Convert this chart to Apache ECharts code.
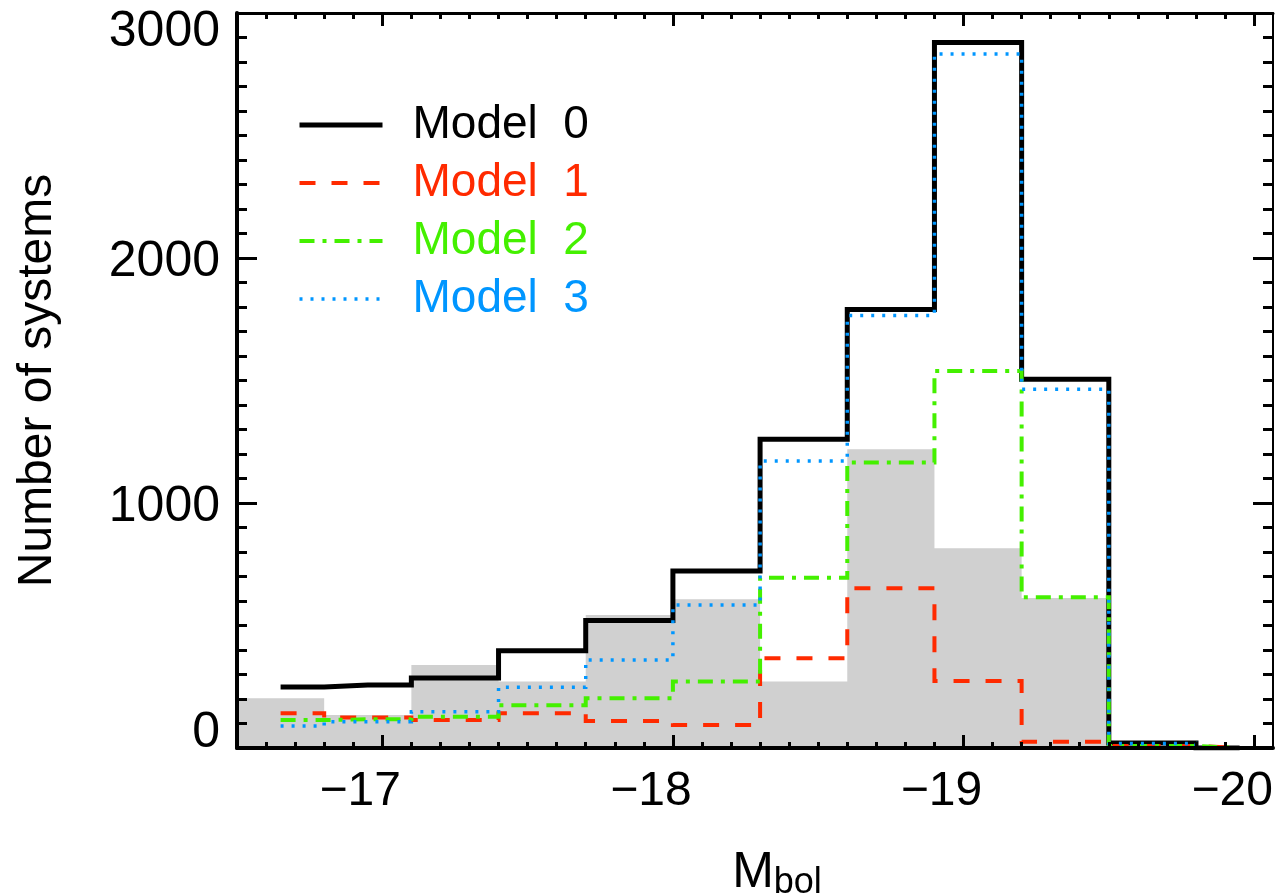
<!DOCTYPE html>
<html>
<head>
<meta charset="utf-8">
<script src="https://cdn.jsdelivr.net/npm/echarts@6/dist/echarts.min.js"></script>
<style>
html,body{margin:0;padding:0;background:#fff;}
#chart{width:1275px;height:893px;}
</style>
</head>
<body>
<div id="chart"></div>
<script>
// ---- data ----
const binCenters = [-16.65, -16.95, -17.25, -17.55, -17.85, -18.15, -18.45, -18.75, -19.05, -19.35, -19.65, -19.95];
const model0 = [249, 257, 286, 397, 520, 722, 1260, 1790, 2880, 1505, 20, 0];
const model1 = [142, 124, 114, 142, 110, 94, 366, 652, 273, 26, 8, 0];
const model2 = [114, 117, 128, 175, 203, 271, 695, 1165, 1539, 615, 8, 0];
const model3 = [90, 107, 148, 248, 359, 584, 1171, 1765, 2833, 1464, 18, 0];
const obsEdges = [-16.5, -16.8, -17.1, -17.4, -17.7, -18.0, -18.3, -18.6, -18.9, -19.2, -19.5];
const obsCounts = [203, 135, 339, 271, 543, 607, 271, 1219, 815, 612];
const seriesNames = ['Model  0', 'Model  1', 'Model  2', 'Model  3'];
const xTickLabels = [-17, -18, -19, -20];
const yTickLabels = [0, 1000, 2000, 3000];
const xRange = [-20.065, -16.5];

// ---- helpers ----
const FONT = '"Liberation Sans", Arial, sans-serif';
const XFONT = '"Liberation Sans", Arial, sans-serif';
const pairs = (xs, ys) => ys.map((y, i) => [xs[i], y]);
const obsData = obsCounts.map((c, i) => [obsEdges[i], c]);
obsData.push([obsEdges[obsEdges.length - 1], obsCounts[obsCounts.length - 1]]);

const minorX = [];
for (let k = 0; k <= 35; k++) minorX.push(+(-16.5 - 0.1 * k).toFixed(2));

const colors = ['#000000', '#ff2a00', '#44f000', '#0096ff'];
const widths = [5, 4, 4, 3.5];
const dashes = ['solid', [16, 16], [15, 8, 4, 8], [3, 8]];
const modelData = [model0, model1, model2, model3];

const baseX = {
  type: 'value', min: xRange[0], max: xRange[1], inverse: true,
  splitLine: {show: false}, z: 10
};

const chart = echarts.init(document.getElementById('chart'), null, {renderer: 'canvas', width: 1275, height: 893});
const yMax = yTickLabels[yTickLabels.length - 1];
const yMin = yTickLabels[0];

chart.setOption({
  animation: false,
  backgroundColor: '#ffffff',
  grid: {left: 237, right: 2, top: 13, bottom: 145, containLabel: false, outerBoundsMode: 'none'},
  legend: {
    orient: 'vertical', left: 297, top: 100, padding: 0,
    itemWidth: 83, itemHeight: 14, itemGap: 8,
    selectedMode: false,
    lineStyle: {width: 4},
    itemStyle: {opacity: 0, color: 'rgba(0,0,0,0)', borderWidth: 0},
    textStyle: {fontSize: 46, fontFamily: FONT, padding: [0, 0, 0, 25], lineHeight: 50},
    data: seriesNames.map((n, i) => ({
      name: n,
      itemStyle: {opacity: 0, color: 'rgba(0,0,0,0)', borderWidth: 0},
      textStyle: {color: colors[i], fontSize: 46, fontFamily: FONT},
      lineStyle: {width: widths[i]}
    }))
  },
  xAxis: [
    Object.assign({}, baseX, {
      position: 'bottom',
      name: '{m|M}{s|bol}', nameLocation: 'middle', nameGap: 100,
      nameTextStyle: {
        padding: [0, 0, 0, 44],
        rich: {
          m: {fontSize: 50, lineHeight: 50, verticalAlign: 'top', fontFamily: XFONT, color: '#000'},
          s: {fontSize: 36, lineHeight: 36, padding: [20, 0, 0, 0], fontFamily: XFONT, color: '#000'}
        }
      },
      axisLine: {show: true, lineStyle: {color: '#000', width: 4}},
      axisTick: {show: true, inside: true, length: 13, lineStyle: {color: '#000', width: 3}, customValues: xTickLabels},
      axisLabel: {
        show: true, customValues: xTickLabels, margin: 20,
        fontSize: 48, fontFamily: XFONT, color: '#000', padding: [0, 44, 0, 0],
        formatter: v => '\u2212' + Math.abs(v)
      }
    }),
    Object.assign({}, baseX, {
      position: 'bottom',
      axisLine: {show: false},
      axisTick: {show: true, inside: true, length: 6, lineStyle: {color: '#000', width: 3}, customValues: minorX},
      axisLabel: {show: false}
    }),
    Object.assign({}, baseX, {
      position: 'top',
      axisLine: {show: true, lineStyle: {color: '#000', width: 3}},
      axisTick: {show: true, inside: true, length: 13, lineStyle: {color: '#000', width: 3}, customValues: xTickLabels},
      axisLabel: {show: false}
    }),
    Object.assign({}, baseX, {
      position: 'top',
      axisLine: {show: false},
      axisTick: {show: true, inside: true, length: 6, lineStyle: {color: '#000', width: 3}, customValues: minorX},
      axisLabel: {show: false}
    })
  ],
  yAxis: [
    {
      type: 'value', position: 'left', min: yMin, max: yMax, interval: 1000,
      name: 'Number of systems', nameLocation: 'middle', nameGap: 175, nameRotate: 90,
      nameTextStyle: {fontSize: 48, fontFamily: FONT, color: '#000'},
      splitLine: {show: false}, z: 10,
      axisLine: {show: true, lineStyle: {color: '#000', width: 4}},
      axisTick: {show: true, inside: true, length: 20, lineStyle: {color: '#000', width: 3}},
      minorTick: {show: true, splitNumber: 10, length: 10, lineStyle: {color: '#000', width: 3}},
      axisLabel: {
        show: true, margin: 17,
        formatter: v => v === yMax ? '{t|' + v + '}' : (v === yMin ? '{b|' + v + '}' : '{n|' + v + '}'),
        rich: {
          t: {fontSize: 50, fontFamily: FONT, color: '#000', padding: [38, 0, 0, 0]},
          b: {fontSize: 50, fontFamily: FONT, color: '#000', padding: [0, 0, 30, 0]},
          n: {fontSize: 50, fontFamily: FONT, color: '#000', padding: [8, 0, 0, 0]}
        }
      }
    },
    {
      type: 'value', position: 'right', min: yMin, max: yMax, interval: 1000,
      splitLine: {show: false}, z: 10,
      axisLine: {show: true, lineStyle: {color: '#000', width: 2}},
      axisTick: {show: true, inside: true, length: 20, lineStyle: {color: '#000', width: 3}},
      minorTick: {show: true, splitNumber: 10, length: 10, lineStyle: {color: '#000', width: 3}},
      axisLabel: {show: false}
    }
  ],
  series: [
    {
      type: 'line', name: 'Observed', step: 'end', data: obsData,
      symbol: 'none', silent: true, z: 1,
      lineStyle: {width: 0, color: '#d0d0d0'},
      areaStyle: {color: '#d0d0d0', opacity: 1}
    }
  ].concat(seriesNames.map((n, i) => ({
    type: 'line', name: n, step: 'middle', data: pairs(binCenters, modelData[i]),
    symbol: 'none', z: 2 + i,
    itemStyle: {color: colors[i]},
    lineStyle: {color: colors[i], width: widths[i], type: dashes[i], cap: 'butt', join: 'miter'}
  })))
});
</script>
</body>
</html>
